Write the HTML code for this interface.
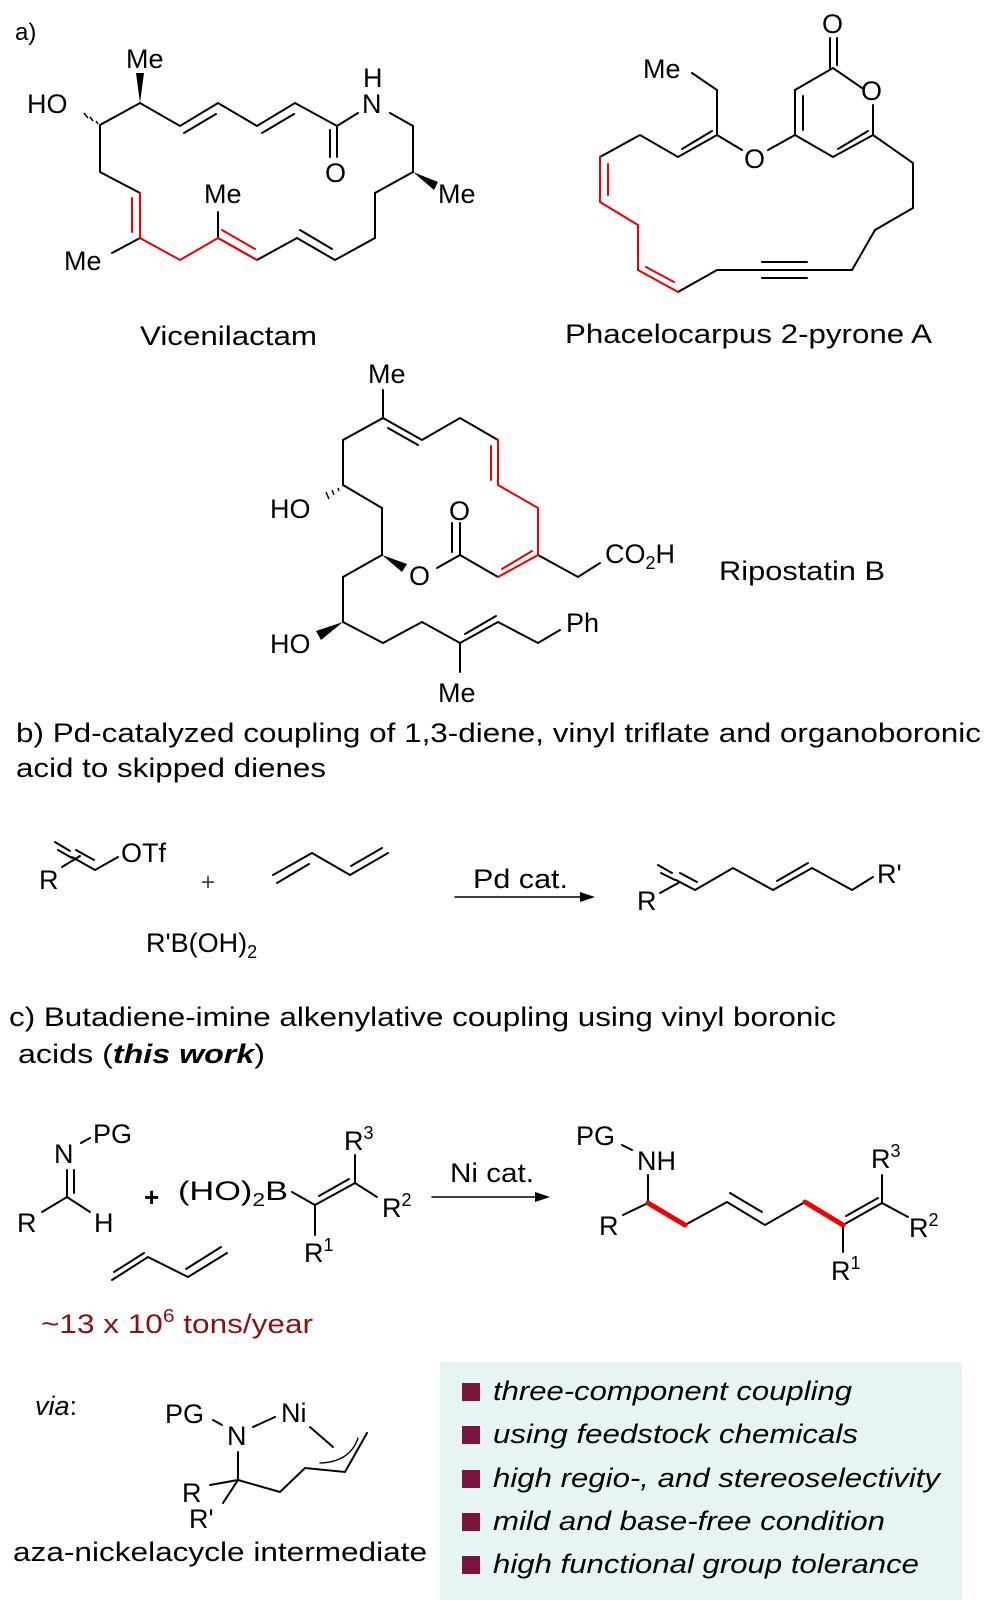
<!DOCTYPE html>
<html><head><meta charset="utf-8"><style>
html,body{margin:0;padding:0;background:#fff;}
svg{display:block;}
text{font-family:"Liberation Sans",Arial,sans-serif;}
</style></head><body>
<svg width="985" height="1611" viewBox="0 0 985 1611" xmlns="http://www.w3.org/2000/svg">
<g stroke="#000" stroke-width="2" fill="none" stroke-linecap="round">
<polyline points="100,172 100,125 140,103 180,126 218,103 257,126 295,103 337,126 358,113"/>
<line x1="184" y1="133" x2="216" y2="114"/>
<line x1="262" y1="133" x2="294" y2="114"/>
<line x1="337" y1="126" x2="337" y2="157"/>
<line x1="330" y1="130" x2="330" y2="157"/>
<polyline points="390,113 413,126 413,172 375,193 375,238 335,260 297,238 257,260 218,238"/>
<line x1="300" y1="230" x2="332" y2="249"/>
<line x1="218" y1="238" x2="218" y2="212"/>
<line x1="140" y1="238" x2="112" y2="253"/>
<line x1="100" y1="172" x2="140" y2="193"/>
</g>
<g stroke="#e00" stroke-width="2" fill="none" stroke-linecap="round">
<polyline points="218,238 180,260 140,238 140,193"/>
<line x1="132" y1="232" x2="132" y2="198"/>
<line x1="218" y1="238" x2="257" y2="260"/>
<line x1="222" y1="230" x2="255" y2="249"/>
</g>
<polygon points="140,103 136,73 144,73" fill="#000"/>
<polygon points="413,172 438,182 434,190" fill="#000"/>
<g stroke="#000" stroke-width="1.5"><line x1="96" y1="121" x2="98" y2="124"/><line x1="90" y1="117" x2="93" y2="121"/><line x1="84" y1="113" x2="88" y2="118"/></g>
<g font-size="27" fill="#000">
<text x="15" y="40" font-size="24">a)</text>
<text x="126" y="68">Me</text>
<text x="27" y="113">HO</text>
<text x="363" y="87">H</text>
<text x="362" y="113">N</text>
<text x="325" y="182">O</text>
<text x="438" y="203">Me</text>
<text x="204" y="203">Me</text>
<text x="64" y="270">Me</text>
<text x="140" y="345" textLength="177" lengthAdjust="spacingAndGlyphs">Vicenilactam</text>
</g>

<g stroke="#000" stroke-width="2" fill="none" stroke-linecap="round">
<line x1="830" y1="38" x2="830" y2="68"/><line x1="837" y1="38" x2="837" y2="65"/>
<polyline points="862,88 833,68 795,90 795,135 833,157 873,135 873,105"/>
<line x1="803" y1="96" x2="803" y2="130"/>
<line x1="838" y1="149" x2="868" y2="131"/>
<line x1="795" y1="135" x2="768" y2="150"/>
<polyline points="742,150 717,135 717,90 692,73"/>
<polyline points="717,135 678,157 640,135 600,157"/>
<line x1="682" y1="149" x2="712" y2="131"/>
<polyline points="678,292 717,270 852,270 875,230 913,208 913,163 873,135"/>
<line x1="762" y1="262" x2="807" y2="262"/><line x1="762" y1="278" x2="807" y2="278"/>
</g>
<g stroke="#e00" stroke-width="2" fill="none" stroke-linecap="round">
<polyline points="600,157 600,202 638,225 638,270 678,292"/>
<line x1="608" y1="164" x2="608" y2="195"/>
<line x1="646" y1="267" x2="674" y2="282"/>
</g>
<g font-size="27" fill="#000">
<text x="822" y="33">O</text>
<text x="861" y="100">O</text>
<text x="744" y="168">O</text>
<text x="643" y="78">Me</text>
<text x="565" y="343" textLength="367" lengthAdjust="spacingAndGlyphs">Phacelocarpus 2-pyrone A</text>
</g>

<g stroke="#000" stroke-width="2" fill="none" stroke-linecap="round">
<polyline points="383,390 383,418 422,440 460,418 498,440"/>
<line x1="388" y1="428" x2="418" y2="445"/>
<polyline points="498,577 460,555 460,523"/>
<line x1="452" y1="552" x2="452" y2="523"/>
<line x1="460" y1="555" x2="437" y2="568"/>
<polyline points="538,555 578,577 600,563"/>
<polyline points="383,418 343,440 343,485 382,508 382,555 343,577 343,622 383,643 422,622 460,643 498,622 538,643 560,630"/>
<line x1="465" y1="634" x2="496" y2="616"/>
<line x1="460" y1="643" x2="460" y2="672"/>
</g>
<g stroke="#e00" stroke-width="2" fill="none" stroke-linecap="round">
<polyline points="498,440 498,485 538,508 538,555 498,577"/>
<line x1="491" y1="446" x2="491" y2="480"/>
<line x1="502" y1="569" x2="532" y2="551"/>
</g>
<polygon points="382,555 402,572 407,564" fill="#000"/>
<polygon points="343,622 316,631 321,640" fill="#000"/>
<g stroke="#000" stroke-width="1.5"><line x1="338" y1="488" x2="339" y2="491"/><line x1="332" y1="490" x2="334" y2="495"/><line x1="326" y1="492" x2="329" y2="499"/></g>
<g font-size="27" fill="#000">
<text x="368" y="383">Me</text>
<text x="270" y="518">HO</text>
<text x="449" y="520">O</text>
<text x="409" y="585">O</text>
<text x="605" y="563">CO<tspan font-size="18" dy="6">2</tspan><tspan dy="-6">H</tspan></text>
<text x="566" y="632">Ph</text>
<text x="270" y="653">HO</text>
<text x="438" y="702">Me</text>
<text x="719" y="580" textLength="166" lengthAdjust="spacingAndGlyphs">Ripostatin B</text>
</g>

<g font-size="27" fill="#000">
<text x="16" y="742" textLength="965" lengthAdjust="spacingAndGlyphs">b) Pd-catalyzed coupling of 1,3-diene, vinyl triflate and organoboronic</text>
<text x="16" y="777" textLength="310" lengthAdjust="spacingAndGlyphs">acid to skipped dienes</text>
</g>
<g stroke="#000" stroke-width="2" fill="none" stroke-linecap="round">
<line x1="62" y1="867" x2="80" y2="856"/>
<line x1="72" y1="857" x2="95" y2="870"/>
<line x1="76" y1="850" x2="94" y2="860"/>
<line x1="55" y1="842" x2="70" y2="851"/>
<line x1="58" y1="850" x2="72" y2="858"/>
<line x1="95" y1="870" x2="118" y2="857"/>
<polyline points="273,875 312,853 350,875 388,853"/>
<line x1="277" y1="883" x2="309" y2="864"/>
<line x1="351" y1="866" x2="382" y2="848"/>
<line x1="455" y1="897" x2="585" y2="897" stroke-width="1.5"/>
<line x1="660" y1="893" x2="680" y2="882"/>
<line x1="676" y1="880" x2="695" y2="890"/>
<line x1="680" y1="873" x2="697" y2="882"/>
<line x1="658" y1="865" x2="672" y2="873"/>
<line x1="661" y1="873" x2="675" y2="880"/>
<polyline points="695,890 733,868 773,890 812,868 852,890 873,877"/>
<line x1="777" y1="881" x2="808" y2="863"/>
</g>
<polygon points="595,897 580,892 580,902" fill="#000"/>
<g font-size="27" fill="#000">
<text x="39" y="889">R</text>
<text x="121" y="862">OTf</text>
<text x="201" y="890" font-size="24" fill="#444">+</text>
<text x="146" y="952">R'B(OH)<tspan font-size="18" dy="6">2</tspan></text>
<text x="473" y="888" textLength="95" lengthAdjust="spacingAndGlyphs">Pd cat.</text>
<text x="637" y="910">R</text>
<text x="877" y="883">R'</text>
</g>

<g font-size="27" fill="#000">
<text x="9" y="1026" textLength="827" lengthAdjust="spacingAndGlyphs">c) Butadiene-imine alkenylative coupling using vinyl boronic</text>
<text x="18" y="1063" textLength="247" lengthAdjust="spacingAndGlyphs">acids  (<tspan font-weight="bold" font-style="italic">this work</tspan>)</text>
</g>
<g stroke="#000" stroke-width="2" fill="none" stroke-linecap="round">
<line x1="81" y1="1143" x2="90" y2="1138"/>
<line x1="67" y1="1170" x2="67" y2="1197"/>
<line x1="74" y1="1170" x2="74" y2="1193"/>
<polyline points="42,1212 67,1197 90,1212"/>
<polyline points="292,1192 315,1205 355,1183 377,1197"/>
<line x1="319" y1="1196" x2="349" y2="1179"/>
<line x1="355" y1="1183" x2="355" y2="1155"/>
<line x1="315" y1="1205" x2="315" y2="1235"/>
<polyline points="112,1280 148,1257 188,1277 227,1253"/>
<line x1="114" y1="1272" x2="144" y2="1253"/>
<line x1="186" y1="1269" x2="221" y2="1247"/>
<line x1="432" y1="1197" x2="540" y2="1197" stroke-width="1.5"/>
<line x1="622" y1="1145" x2="632" y2="1150"/>
<line x1="648" y1="1175" x2="648" y2="1203"/>
<line x1="623" y1="1215" x2="648" y2="1203"/>
<polyline points="685,1225 727,1202 765,1225 805,1202"/>
<line x1="730" y1="1193" x2="762" y2="1212"/>
<line x1="843" y1="1225" x2="882" y2="1203"/>
<line x1="846" y1="1216" x2="878" y2="1198"/>
<line x1="882" y1="1203" x2="882" y2="1175"/>
<line x1="882" y1="1203" x2="908" y2="1217"/>
<line x1="843" y1="1225" x2="843" y2="1252"/>
</g>
<g stroke="#e00" stroke-width="5" stroke-linecap="round">
<line x1="648" y1="1203" x2="685" y2="1225"/>
<line x1="805" y1="1202" x2="843" y2="1225"/>
</g>
<polygon points="550,1197 535,1192 535,1202" fill="#000"/>
<g font-size="27" fill="#000">
<text x="54" y="1163">N</text>
<text x="93" y="1143">PG</text>
<text x="17" y="1232">R</text>
<text x="94" y="1232">H</text>
<text x="144" y="1206" font-weight="bold" font-size="26">+</text>
<text x="178" y="1200" textLength="110" lengthAdjust="spacingAndGlyphs">(HO)<tspan font-size="18" dy="6">2</tspan><tspan dy="-6">B</tspan></text>
<text x="344" y="1150">R<tspan font-size="18" dy="-11">3</tspan></text>
<text x="382" y="1217">R<tspan font-size="18" dy="-11">2</tspan></text>
<text x="304" y="1262">R<tspan font-size="18" dy="-11">1</tspan></text>
<text x="450" y="1182" textLength="84" lengthAdjust="spacingAndGlyphs">Ni cat.</text>
<text x="576" y="1145">PG</text>
<text x="637" y="1170">NH</text>
<text x="599" y="1235">R</text>
<text x="871" y="1168">R<tspan font-size="18" dy="-11">3</tspan></text>
<text x="909" y="1237">R<tspan font-size="18" dy="-11">2</tspan></text>
<text x="831" y="1280">R<tspan font-size="18" dy="-11">1</tspan></text>
</g>
<text x="41" y="1333" font-size="27" style="fill:#8b1010" textLength="272" lengthAdjust="spacingAndGlyphs">~13 x 10<tspan font-size="18" dy="-11">6</tspan><tspan dy="11"> tons/year</tspan></text>

<rect x="440" y="1362" width="522" height="238" fill="#e6f4f4"/>
<g fill="#7a1540">
<rect x="462" y="1383" width="18" height="18"/>
<rect x="462" y="1426" width="18" height="18"/>
<rect x="462" y="1470" width="18" height="18"/>
<rect x="462" y="1513" width="18" height="18"/>
<rect x="462" y="1556" width="18" height="18"/>
</g>
<g font-size="27" font-style="italic" fill="#000">
<text x="493" y="1400" textLength="359" lengthAdjust="spacingAndGlyphs">three-component coupling</text>
<text x="493" y="1443" textLength="365" lengthAdjust="spacingAndGlyphs">using feedstock chemicals</text>
<text x="493" y="1487" textLength="447" lengthAdjust="spacingAndGlyphs">high regio-, and stereoselectivity</text>
<text x="493" y="1530" textLength="392" lengthAdjust="spacingAndGlyphs">mild and base-free condition</text>
<text x="493" y="1573" textLength="426" lengthAdjust="spacingAndGlyphs">high functional group tolerance</text>
</g>
<g stroke="#000" stroke-width="2" fill="none" stroke-linecap="round">
<line x1="213" y1="1420" x2="222" y2="1425"/>
<line x1="253" y1="1427" x2="275" y2="1417"/>
<line x1="310" y1="1427" x2="333" y2="1447"/>
<polyline points="367,1433 345,1472 305,1468 280,1492 238,1480 238,1452"/>
<line x1="238" y1="1480" x2="210" y2="1485"/>
<line x1="238" y1="1480" x2="223" y2="1503"/>
<path d="M320,1463 Q350,1462 358,1438" stroke-width="1.3"/>
</g>
<g font-size="27" fill="#000">
<text x="35" y="1415" font-style="italic">via<tspan font-style="normal">:</tspan></text>
<text x="165" y="1423">PG</text>
<text x="227" y="1445">N</text>
<text x="281" y="1422">Ni</text>
<text x="182" y="1502">R</text>
<text x="189" y="1528">R'</text>
<text x="13" y="1561" textLength="414" lengthAdjust="spacingAndGlyphs">aza-nickelacycle intermediate</text>
</g>
</svg>
</body></html>
